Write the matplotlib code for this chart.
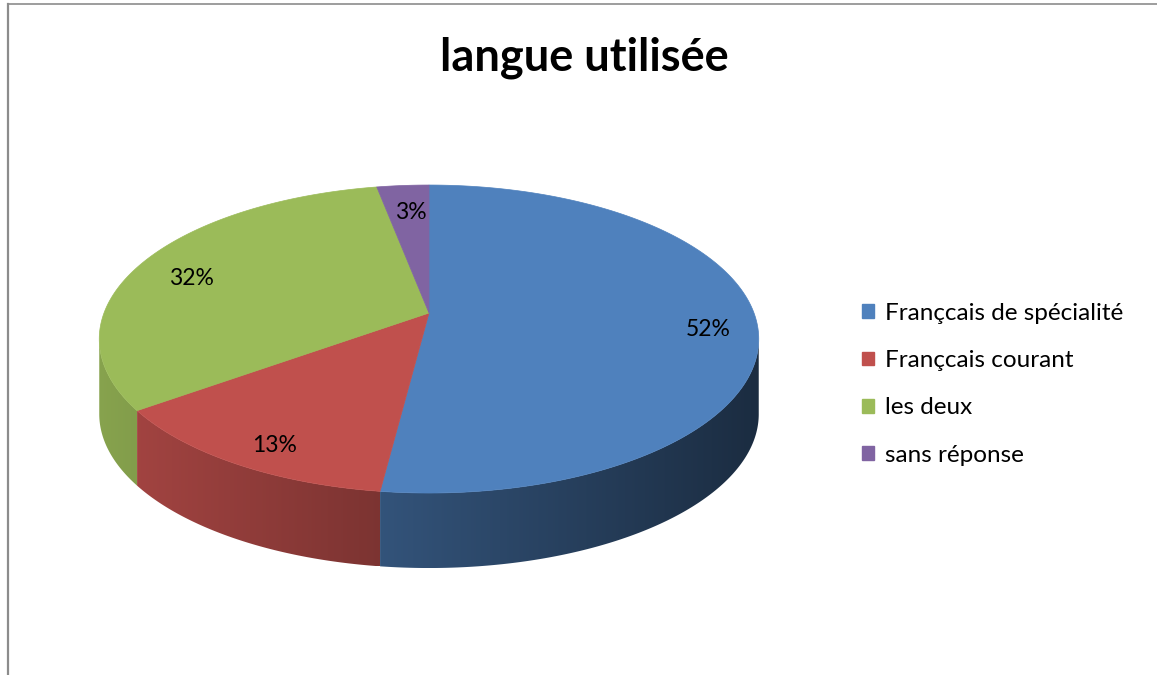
import numpy as np
import matplotlib
matplotlib.use("Agg")
import matplotlib.pyplot as plt
from matplotlib.patches import Polygon, Patch
from matplotlib.colors import to_rgb

TITLE = "langue utilisée"
LABELS = ["Françcais de spécialité", "Françcais courant", "les deux", "sans réponse"]
SHARES = [52, 13, 32, 3]
COLORS = ["#4f81bd", "#c0504d", "#9bbb59", "#8064a2"]

W, H = 1157, 675
CX, CY = 429, 313            # projected pie centre (px)
A, B, K = 325, 149.6, 0.169  # half width, half height, perspective
DEPTH = 75
FONT = ["Lato", "DejaVu Sans"]


def proj(theta, r=1.0):
    u, v = r * np.cos(theta), r * np.sin(theta)
    s = 1 + K * v
    return CX + A * u / s, CY - B * v / s


def wall_factor(x):
    # light comes from the left: wall darkens towards the right
    return np.clip(0.83 - 0.0008 * (x - 150), 0.3, 0.9)


fig = plt.figure(figsize=(W / 100, H / 100), dpi=100)
ax = fig.add_axes([0, 0, 1, 1])
ax.set_xlim(0, W); ax.set_ylim(H, 0); ax.axis("off")

total = sum(SHARES)
edges = np.radians(90 - 360 * np.concatenate([[0], np.cumsum(SHARES)]) / total)
front_lo, front_hi = -np.pi + np.arcsin(K), -np.arcsin(K)

# side walls (front half only), gradient clipped to each wall
for i, c in enumerate(COLORS):
    t0, t1 = max(edges[i + 1], front_lo), min(edges[i], front_hi)
    if t1 <= t0:
        continue
    ts = np.linspace(t0, t1, 200)
    x, y = proj(ts)
    pts = list(zip(x, y)) + list(zip(x[::-1], y[::-1] + DEPTH))
    poly = Polygon(pts, closed=True, fc="none", ec="none")
    ax.add_patch(poly)
    xs = np.linspace(x.min(), x.max(), 256)
    img = wall_factor(xs)[None, :, None] * np.array(to_rgb(c))[None, None, :]
    im = ax.imshow(np.clip(img, 0, 1), extent=(x.min(), x.max(), y.max() + DEPTH, y.min()),
                   aspect="auto", interpolation="bilinear", zorder=1)
    im.set_clip_path(poly)
ax.set_xlim(0, W); ax.set_ylim(H, 0)

# top faces
for i, c in enumerate(COLORS):
    ts = np.linspace(edges[i], edges[i + 1], 200)
    x, y = proj(ts)
    pts = [(CX, CY)] + list(zip(x, y))
    ax.add_patch(Polygon(pts, closed=True, fc=c, ec=c, lw=0.5, zorder=2))

# percentage labels
for i, v in enumerate(SHARES):
    mid = (edges[i] + edges[i + 1]) / 2
    x, y = proj(mid, 0.84)
    ax.text(x + 4, y + 9, f"{v}%", ha="center", va="center", fontsize=16.5, family=FONT,
            color="black", zorder=3)

ax.text(584, 58, TITLE, ha="center", va="center", fontsize=32.5, fontweight="bold", family=FONT)

handles = [Patch(fc=c, ec=c) for c in COLORS]
leg = ax.legend(handles, LABELS, loc="upper left", bbox_to_anchor=(840, 281),
                bbox_transform=ax.transData, frameon=False, handlelength=0.5, handleheight=0.5,
                handletextpad=0.45, labelspacing=1.08, prop={"family": FONT, "size": 17.5})

ax.plot([8, W], [4, 4], color="#8c8c8c", lw=1.2)
ax.plot([8, 8], [4, H], color="#8c8c8c", lw=1.6)

fig.savefig("out.png", dpi=100, facecolor="white")
